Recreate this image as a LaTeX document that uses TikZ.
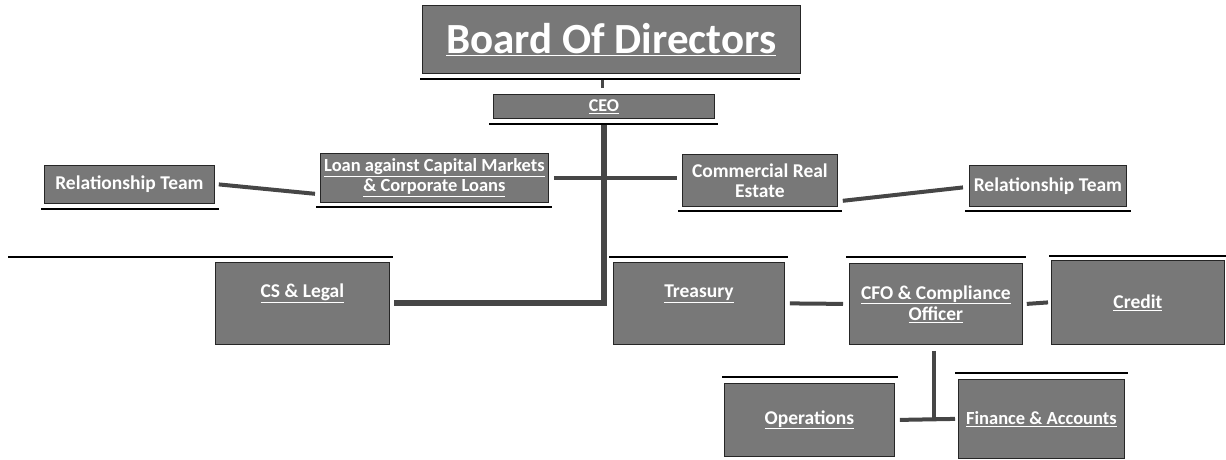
\documentclass[tikz,border=0pt]{standalone}
\usepackage{fontspec}
\setmainfont{Carlito}
\usetikzlibrary{calc}
\definecolor{boxgray}{RGB}{120,120,120}
\definecolor{conngray}{RGB}{70,70,70}
\begin{document}
\begin{tikzpicture}[x=1pt,y=-1pt,
  box/.style={draw=black!85, line width=0.8pt, fill=boxgray, text=white,
    font=\bfseries\fontsize{19.5}{20}\selectfont, inner sep=0pt, anchor=north west, align=center},
  conn/.style={draw=conngray, line width=4pt},
  trunkline/.style={draw=conngray, line width=6pt},
  sepline/.style={draw=black, line width=1.5pt}]
\useasboundingbox (0,0) rectangle (1226,459);

% boxes
\node[box, minimum width=378pt, minimum height=68pt, font=\bfseries\fontsize{43}{46}\selectfont] (board) at (422,5) {\underline{Board Of Directors}};
\node[box, minimum width=221pt, minimum height=24pt, font=\bfseries\fontsize{18}{19}\selectfont] (ceo) at (493,94) {\underline{CEO}};
\node[box, minimum width=170pt, minimum height=38pt] (rtl) at (44,165) {Relationship Team};
\node[box, minimum width=228pt, minimum height=49pt, font=\bfseries\fontsize{18.5}{20}\selectfont] (loan) at (320,153) {\underline{Loan against Capital Markets}\\\underline{\& Corporate Loans}};
\node[box, minimum width=155pt, minimum height=52pt] (cre) at (682,154) {Commercial Real\\Estate};
\node[box, minimum width=157pt, minimum height=41pt] (rtr) at (969,165) {Relationship Team};
\node[box, minimum width=174pt, minimum height=82pt, align=none, text depth=26pt] (cs) at (215,262) {\underline{CS \& Legal}};
\node[box, minimum width=171pt, minimum height=82pt, align=none, text depth=24pt] (tre) at (613,262) {\underline{Treasury}};
\node[box, minimum width=173pt, minimum height=81pt, font=\bfseries\fontsize{19.5}{21}\selectfont] (cfo) at (849,263) {\underline{CFO \& Compliance}\\\underline{Officer}};
\node[box, minimum width=173pt, minimum height=84pt] (cred) at (1051,260) {\underline{Credit}};
\node[box, minimum width=170pt, minimum height=73pt] (ops) at (724,383) {\underline{Operations}};
\node[box, minimum width=166pt, minimum height=79pt, font=\bfseries\fontsize{18.5}{20}\selectfont] (fa) at (958,379) {\underline{Finance \& Accounts}};

% separator lines
\draw[sepline] (420,79) -- (800,79);
\draw[sepline] (489,124) -- (718,124);
\draw[sepline] (41,209) -- (219,209);
\draw[sepline] (316,207) -- (552,207);
\draw[sepline] (678,211) -- (842,211);
\draw[sepline] (965,211) -- (1131,211);
\draw[sepline] (8,257) -- (393,257);
\draw[sepline] (609,257) -- (788,257);
\draw[sepline] (846,257) -- (1026,257);
\draw[sepline, line width=2.5pt] (1049,256) -- (1226,256);
\draw[sepline] (722,377) -- (898,377);
\draw[sepline] (955,373) -- (1128,373);

% connectors
\coordinate (stubtop) at (602,80);
\coordinate (stubbot) at (602,88);
\draw[conn, line width=3pt] (stubtop) -- (stubbot);
\draw[trunkline] ([yshift=-6pt]ceo.south) -- (ceo.south |- cs.east) -- ([xshift=4pt]cs.east);
\draw[conn] ([xshift=5pt]loan.east) -- ([xshift=-5pt]loan.east -| cre.west);
\draw[conn] ([xshift=4pt]rtl.east) -- ($(loan.south west)+(-5,-9)$);
\draw[conn] ($(cre.south east)+(5,-6)$) -- ($(rtr.west)+(-6,1.5)$);
\draw[conn] ([xshift=5pt]tre.east) -- ([xshift=-6pt]cfo.west);
\draw[conn] ([xshift=4pt]cfo.east) -- ([xshift=-3pt]cred.west);
\draw[conn] ([xshift=-2pt,yshift=-6pt]cfo.south) -- ([xshift=-2pt]cfo.south |- ops.east);
\draw[conn] ([xshift=5pt]ops.east) -- ([xshift=-3pt]fa.west);
\end{tikzpicture}
\end{document}
